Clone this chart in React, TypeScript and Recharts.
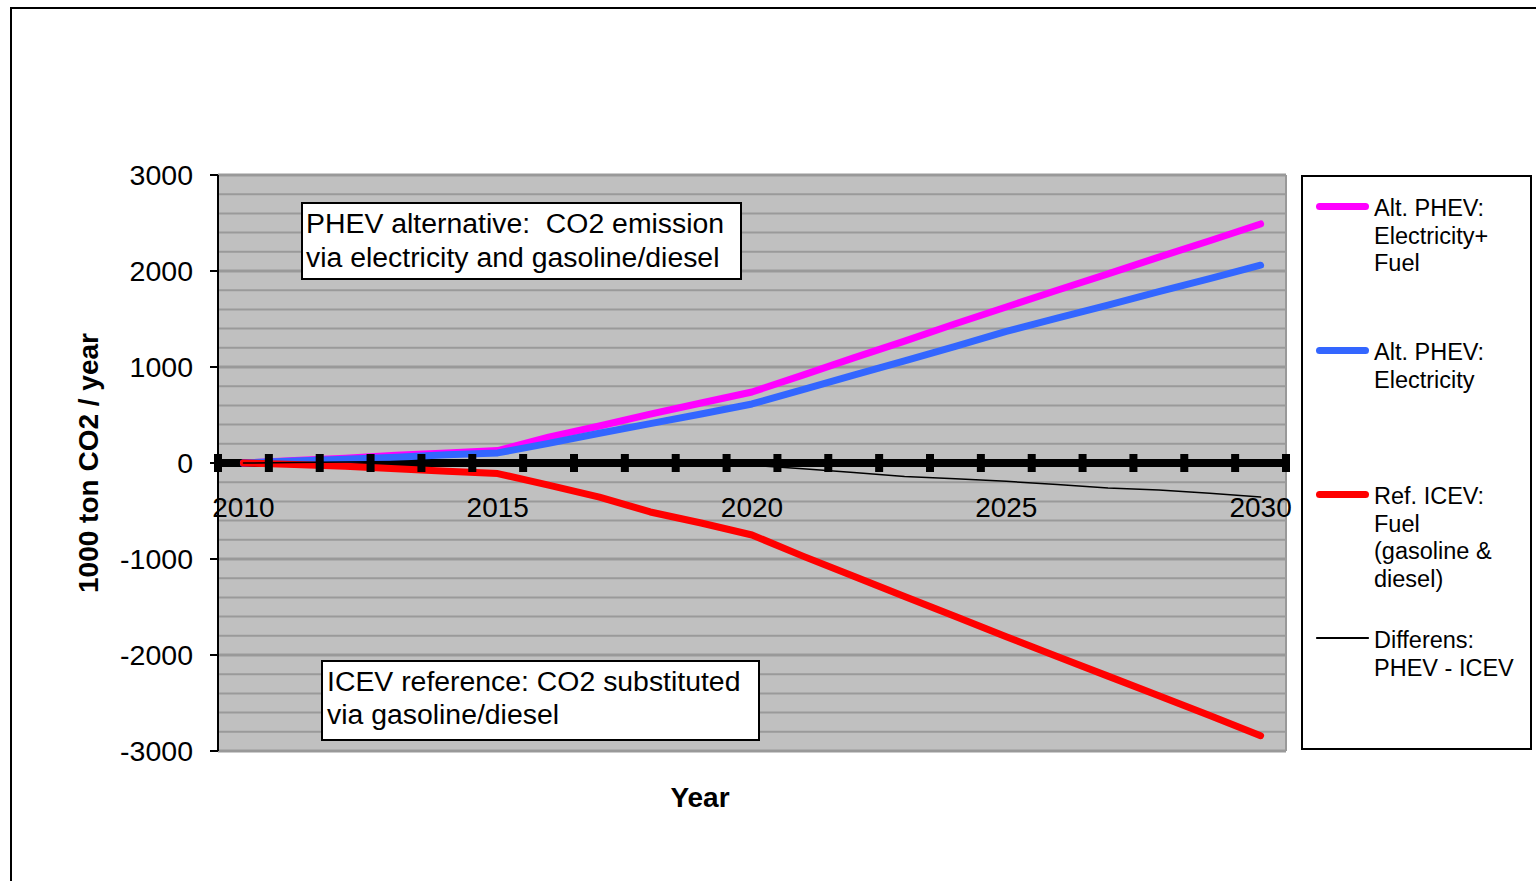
import { ComposedChart, Line, Scatter, XAxis, YAxis, CartesianGrid, ReferenceLine } from 'recharts';

const years = [2010, 2011, 2012, 2013, 2014, 2015, 2016, 2017, 2018, 2019, 2020, 2021, 2022, 2023, 2024, 2025, 2026, 2027, 2028, 2029, 2030];

// 1000 ton CO2 / year
const phevTotal = [0, 25, 50, 80, 105, 130, 270, 385, 510, 625, 740, 915, 1095, 1270, 1450, 1625, 1800, 1970, 2145, 2315, 2490];
const phevElectricity = [0, 20, 40, 60, 85, 105, 205, 310, 410, 510, 615, 765, 915, 1065, 1215, 1370, 1510, 1645, 1785, 1920, 2060];
const icevFuel = [0, -15, -35, -60, -85, -110, -230, -355, -510, -625, -750, -970, -1180, -1390, -1600, -1810, -2015, -2220, -2425, -2630, -2840];
const difference = [0, 5, 10, 15, 15, 20, 20, 15, 0, -10, -25, -60, -100, -140, -165, -190, -225, -260, -280, -315, -355];

const yTicks = [-3000, -2000, -1000, 0, 1000, 2000, 3000];
const minorGrid = [-2800, -2600, -2400, -2200, -1800, -1600, -1400, -1200, -800, -600, -400, -200, 200, 400, 600, 800, 1200, 1400, 1600, 1800, 2200, 2400, 2600, 2800];
const yearLabels = [2010, 2015, 2020, 2025, 2030];
// tick marks sit between the categories
const categoryEdges = [2009.5, 2010.5, 2011.5, 2012.5, 2013.5, 2014.5, 2015.5, 2016.5, 2017.5, 2018.5, 2019.5, 2020.5, 2021.5, 2022.5, 2023.5, 2024.5, 2025.5, 2026.5, 2027.5, 2028.5, 2029.5, 2030.5];

const series = [
  { key: 'total', name: 'Alt. PHEV:\nElectricity+\nFuel', color: '#FF00FF', width: 7 },
  { key: 'electricity', name: 'Alt. PHEV:\nElectricity', color: '#3366FF', width: 7 },
  { key: 'icev', name: 'Ref. ICEV:\nFuel\n(gasoline &\ndiesel)', color: '#FF0000', width: 7 },
  { key: 'diff', name: 'Differens:\nPHEV - ICEV', color: '#000000', width: 1.5 },
];

const rows = years.map((year, i) => ({
  year,
  total: phevTotal[i],
  electricity: phevElectricity[i],
  icev: icevFuel[i],
  diff: difference[i],
}));

const edgeMarks = categoryEdges.map((year) => ({ year, value: 0 }));
const labelMarks = yearLabels.map((year) => ({ year, value: 0 }));

const FONT = '"Liberation Sans", Arial, sans-serif';

const TickMark = (props: any) => {
  const { cx, cy } = props;
  return <rect x={cx - 4} y={cy - 9} width={8} height={18} fill="#000" />;
};

const YearLabel = (props: any) => {
  const { cx, cy, payload } = props;
  return (
    <text x={cx} y={cy + 54} textAnchor="middle" fontSize={28} fontFamily={FONT} fill="#000">
      {payload.year}
    </text>
  );
};

const boxStyle: React.CSSProperties = {
  position: 'absolute',
  boxSizing: 'border-box',
  background: '#fff',
  border: '2px solid #000',
  fontFamily: FONT,
  fontSize: 28.4,
  color: '#000',
  whiteSpace: 'pre',
};

export default function App() {
  return (
    <div style={{ position: 'absolute', left: 0, top: 0, width: 1536, height: 881, overflow: 'hidden', background: '#fff' }}>
      <div style={{ position: 'absolute', left: 10, top: 7, width: 1526, height: 874, borderLeft: '2px solid #000', borderTop: '2px solid #000' }} />
      <div style={{ position: 'absolute', left: 0, top: 0 }}>
        <ComposedChart width={1536} height={881} data={rows} margin={{ top: 175, right: 250, bottom: 38, left: -42 }}>
          <CartesianGrid vertical={false} stroke="#999" strokeWidth={3} fill="#C0C0C0" />
          {minorGrid.map((v) => (
            <ReferenceLine key={v} y={v} stroke="#9a9a9a" strokeWidth={2} />
          ))}
          <ReferenceLine x={2030.5} stroke="#999" strokeWidth={2} />
          <XAxis
            dataKey="year"
            type="number"
            domain={[2009.5, 2030.5]}
            tick={false}
            axisLine={false}
            tickLine={false}
            height={92}
            label={{ value: 'Year', position: 'center', dx: -52, fontSize: 28, fontWeight: 'bold', fill: '#000', fontFamily: FONT }}
          />
          <YAxis
            type="number"
            domain={[-3000, 3000]}
            ticks={yTicks}
            width={260}
            interval={0}
            tickSize={8}
            tickMargin={17}
            tick={{ fontSize: 28.5, fill: '#000', fontFamily: FONT }}
            tickLine={{ stroke: '#000', strokeWidth: 2 }}
            axisLine={{ stroke: '#000', strokeWidth: 2 }}
            label={{ value: '1000 ton CO2 / year', angle: -90, position: 'center', fontSize: 28, fontWeight: 'bold', fill: '#000', fontFamily: FONT }}
          />
          <ReferenceLine y={0} stroke="#000" strokeWidth={8} />
          <Scatter data={edgeMarks} dataKey="value" shape={TickMark} isAnimationActive={false} />
          <Scatter data={labelMarks} dataKey="value" shape={YearLabel} isAnimationActive={false} />
          {series.map((s) => (
            <Line
              key={s.key}
              type="linear"
              dataKey={s.key}
              stroke={s.color}
              strokeWidth={s.width}
              strokeLinecap="round"
              strokeLinejoin="round"
              dot={false}
              activeDot={false}
              isAnimationActive={false}
            />
          ))}
        </ComposedChart>
      </div>

      <div style={{ ...boxStyle, left: 301, top: 202, width: 441, height: 78, padding: '2px 0 0 3px', lineHeight: '34px' }}>
        {'PHEV alternative:  CO2 emission\nvia electricity and gasoline/diesel'}
      </div>
      <div style={{ ...boxStyle, left: 321, top: 660, width: 439, height: 81, padding: '3px 0 0 4px', lineHeight: '33px' }}>
        {'ICEV reference: CO2 substituted\nvia gasoline/diesel'}
      </div>

      <div style={{ position: 'absolute', left: 1301, top: 175, width: 231, height: 575, boxSizing: 'border-box', border: '2px solid #000', background: '#fff' }} />
      {series.map((s, i) => (
        <div key={s.key}>
          <div
            style={{
              position: 'absolute',
              left: 1316,
              top: 206 + 144 * i - s.width / 2,
              width: 53,
              height: s.width,
              borderRadius: s.width / 2,
              background: s.color,
            }}
          />
          <div
            style={{
              position: 'absolute',
              left: 1374,
              top: 195 + 144 * i,
              fontFamily: FONT,
              fontSize: 23.5,
              lineHeight: '27.5px',
              whiteSpace: 'pre',
              color: '#000',
            }}
          >
            {s.name}
          </div>
        </div>
      ))}
    </div>
  );
}
